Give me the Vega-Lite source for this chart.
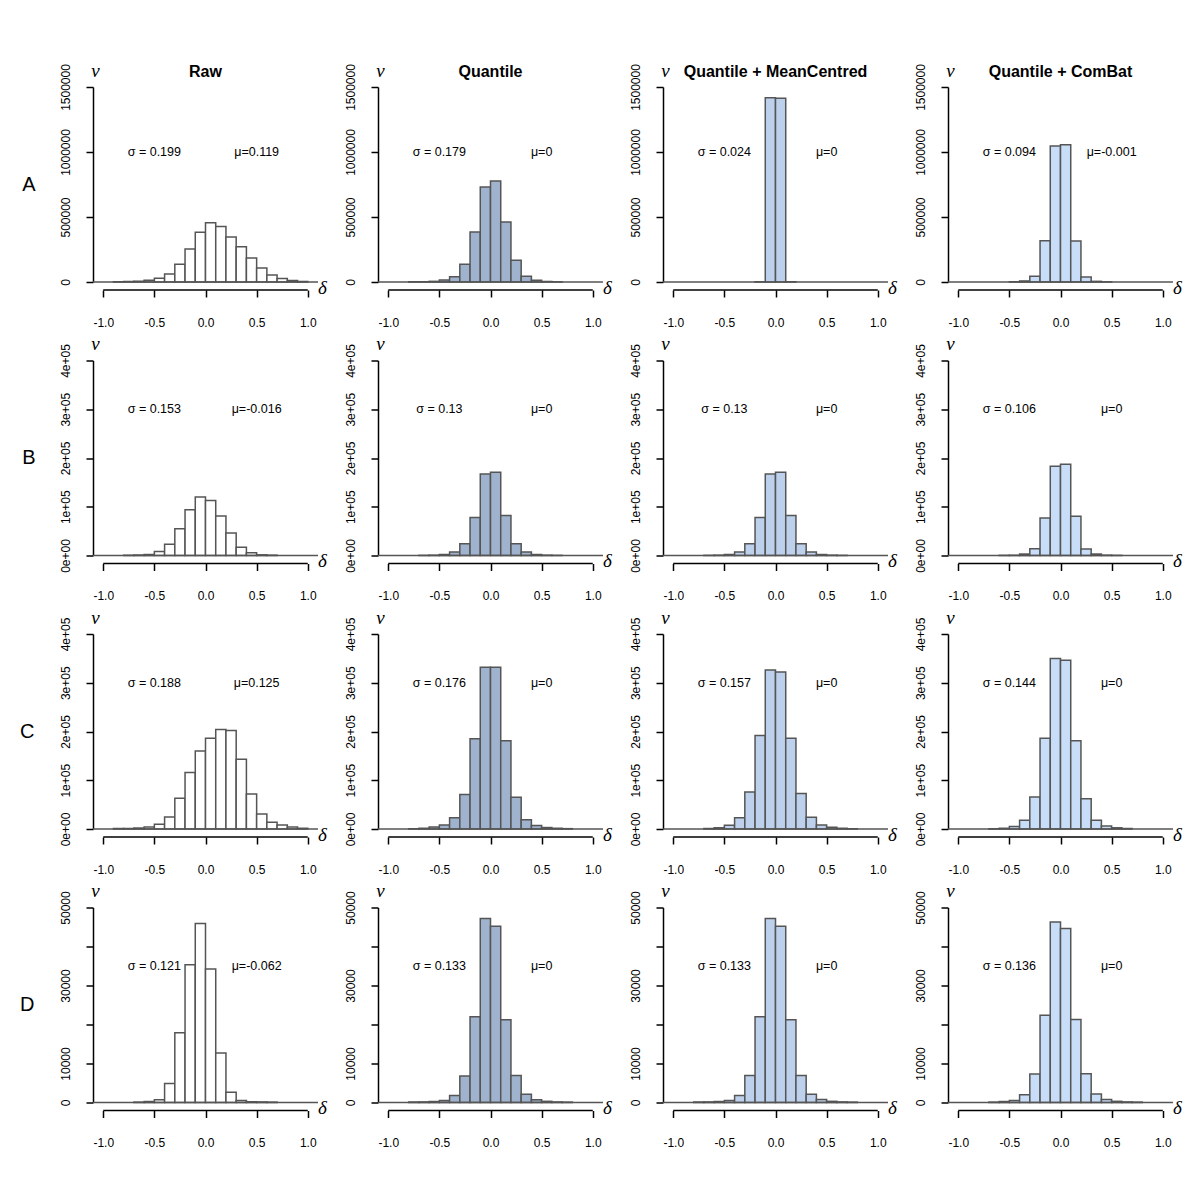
{
"$schema": "https://vega.github.io/schema/vega-lite/v6.json",
"background": "white",
"padding": {"left": 20, "top": 61, "right": 5, "bottom": 5},
"spacing": 6.5,
"config": {
 "view": {"stroke": null},
 "font": "Liberation Sans",
 "axis": {"tickCount": 20, "domainColor": "black", "domainWidth": 1.5, "tickColor": "black", "tickWidth": 1.5, "tickSize": 7, "labelFont": "Liberation Sans", "labelFontSize": 12, "labelColor": "black", "labelFlush": false, "labelOverlap": false, "grid": false, "titleFont": "Liberation Serif", "titleFontStyle": "italic", "titleFontWeight": "normal", "titleFontSize": 19, "titleColor": "black"},
 "axisX": {"domain": false, "labelPadding": 20, "titleX": 229, "titleY": 3, "titleAlign": "center", "titleBaseline": "alphabetic"},
 "axisY": {"labelAngle": -90, "labelAlign": "center", "labelBaseline": "bottom", "labelPadding": 14, "titleAngle": 0, "titleX": 2, "titleY": -11, "titleAlign": "center", "titleBaseline": "alphabetic"}
},
"datasets": {"d": [
{"r":"A","m":"Raw","s":"σ = 0.199","u":"μ=0.119"},
{"r":"A","m":"Quantile","s":"σ = 0.179","u":"μ=0"},
{"r":"A","m":"Quantile + MeanCentred","s":"σ = 0.024","u":"μ=0"},
{"r":"A","m":"Quantile + ComBat","s":"σ = 0.094","u":"μ=-0.001"},
{"r":"B","m":"Raw","s":"σ = 0.153","u":"μ=-0.016"},
{"r":"B","m":"Quantile","s":"σ = 0.13","u":"μ=0"},
{"r":"B","m":"Quantile + MeanCentred","s":"σ = 0.13","u":"μ=0"},
{"r":"B","m":"Quantile + ComBat","s":"σ = 0.106","u":"μ=0"},
{"r":"C","m":"Raw","s":"σ = 0.188","u":"μ=0.125"},
{"r":"C","m":"Quantile","s":"σ = 0.176","u":"μ=0"},
{"r":"C","m":"Quantile + MeanCentred","s":"σ = 0.157","u":"μ=0"},
{"r":"C","m":"Quantile + ComBat","s":"σ = 0.144","u":"μ=0"},
{"r":"D","m":"Raw","s":"σ = 0.121","u":"μ=-0.062"},
{"r":"D","m":"Quantile","s":"σ = 0.133","u":"μ=0"},
{"r":"D","m":"Quantile + MeanCentred","s":"σ = 0.133","u":"μ=0"},
{"r":"D","m":"Quantile + ComBat","s":"σ = 0.136","u":"μ=0"},

{"r":"A","m":"Raw","a":-0.9,"b":-0.8,"n":1500},
{"r":"A","m":"Raw","a":-0.8,"b":-0.7,"n":3000},
{"r":"A","m":"Raw","a":-0.7,"b":-0.6,"n":6000},
{"r":"A","m":"Raw","a":-0.6,"b":-0.5,"n":13000},
{"r":"A","m":"Raw","a":-0.5,"b":-0.4,"n":28000},
{"r":"A","m":"Raw","a":-0.4,"b":-0.3,"n":62000},
{"r":"A","m":"Raw","a":-0.3,"b":-0.2,"n":136000},
{"r":"A","m":"Raw","a":-0.2,"b":-0.1,"n":254000},
{"r":"A","m":"Raw","a":-0.1,"b":0,"n":382000},
{"r":"A","m":"Raw","a":0,"b":0.1,"n":456000},
{"r":"A","m":"Raw","a":0.1,"b":0.2,"n":426000},
{"r":"A","m":"Raw","a":0.2,"b":0.3,"n":346000},
{"r":"A","m":"Raw","a":0.3,"b":0.4,"n":272000},
{"r":"A","m":"Raw","a":0.4,"b":0.5,"n":185000},
{"r":"A","m":"Raw","a":0.5,"b":0.6,"n":108000},
{"r":"A","m":"Raw","a":0.6,"b":0.7,"n":54000},
{"r":"A","m":"Raw","a":0.7,"b":0.8,"n":26000},
{"r":"A","m":"Raw","a":0.8,"b":0.9,"n":12000},
{"r":"A","m":"Raw","a":0.9,"b":1.0,"n":4000},

{"r":"A","m":"Quantile","a":-0.8,"b":-0.7,"n":1000},
{"r":"A","m":"Quantile","a":-0.7,"b":-0.6,"n":2000},
{"r":"A","m":"Quantile","a":-0.6,"b":-0.5,"n":5000},
{"r":"A","m":"Quantile","a":-0.5,"b":-0.4,"n":16000},
{"r":"A","m":"Quantile","a":-0.4,"b":-0.3,"n":40000},
{"r":"A","m":"Quantile","a":-0.3,"b":-0.2,"n":137000},
{"r":"A","m":"Quantile","a":-0.2,"b":-0.1,"n":385000},
{"r":"A","m":"Quantile","a":-0.1,"b":0,"n":731000},
{"r":"A","m":"Quantile","a":0,"b":0.1,"n":777000},
{"r":"A","m":"Quantile","a":0.1,"b":0.2,"n":462000},
{"r":"A","m":"Quantile","a":0.2,"b":0.3,"n":167000},
{"r":"A","m":"Quantile","a":0.3,"b":0.4,"n":44000},
{"r":"A","m":"Quantile","a":0.4,"b":0.5,"n":13000},
{"r":"A","m":"Quantile","a":0.5,"b":0.6,"n":4000},
{"r":"A","m":"Quantile","a":0.6,"b":0.7,"n":1500},

{"r":"A","m":"Quantile + MeanCentred","a":-0.2,"b":-0.1,"n":1500},
{"r":"A","m":"Quantile + MeanCentred","a":-0.1,"b":0,"n":1418000},
{"r":"A","m":"Quantile + MeanCentred","a":0,"b":0.1,"n":1413000},
{"r":"A","m":"Quantile + MeanCentred","a":0.1,"b":0.2,"n":2000},

{"r":"A","m":"Quantile + ComBat","a":-0.5,"b":-0.4,"n":1000},
{"r":"A","m":"Quantile + ComBat","a":-0.4,"b":-0.3,"n":8000},
{"r":"A","m":"Quantile + ComBat","a":-0.3,"b":-0.2,"n":44000},
{"r":"A","m":"Quantile + ComBat","a":-0.2,"b":-0.1,"n":318000},
{"r":"A","m":"Quantile + ComBat","a":-0.1,"b":0,"n":1046000},
{"r":"A","m":"Quantile + ComBat","a":0,"b":0.1,"n":1056000},
{"r":"A","m":"Quantile + ComBat","a":0.1,"b":0.2,"n":315000},
{"r":"A","m":"Quantile + ComBat","a":0.2,"b":0.3,"n":38000},
{"r":"A","m":"Quantile + ComBat","a":0.3,"b":0.4,"n":5000},
{"r":"A","m":"Quantile + ComBat","a":0.4,"b":0.5,"n":800},

{"r":"B","m":"Raw","a":-0.8,"b":-0.7,"n":500},
{"r":"B","m":"Raw","a":-0.7,"b":-0.6,"n":1000},
{"r":"B","m":"Raw","a":-0.6,"b":-0.5,"n":2000},
{"r":"B","m":"Raw","a":-0.5,"b":-0.4,"n":8000},
{"r":"B","m":"Raw","a":-0.4,"b":-0.3,"n":23000},
{"r":"B","m":"Raw","a":-0.3,"b":-0.2,"n":55000},
{"r":"B","m":"Raw","a":-0.2,"b":-0.1,"n":94000},
{"r":"B","m":"Raw","a":-0.1,"b":0,"n":120000},
{"r":"B","m":"Raw","a":0,"b":0.1,"n":113000},
{"r":"B","m":"Raw","a":0.1,"b":0.2,"n":81000},
{"r":"B","m":"Raw","a":0.2,"b":0.3,"n":46000},
{"r":"B","m":"Raw","a":0.3,"b":0.4,"n":17000},
{"r":"B","m":"Raw","a":0.4,"b":0.5,"n":5500},
{"r":"B","m":"Raw","a":0.5,"b":0.6,"n":1400},
{"r":"B","m":"Raw","a":0.6,"b":0.7,"n":700},

{"r":"B","m":"Quantile","a":-0.7,"b":-0.6,"n":300},
{"r":"B","m":"Quantile","a":-0.6,"b":-0.5,"n":700},
{"r":"B","m":"Quantile","a":-0.5,"b":-0.4,"n":2000},
{"r":"B","m":"Quantile","a":-0.4,"b":-0.3,"n":7000},
{"r":"B","m":"Quantile","a":-0.3,"b":-0.2,"n":24000},
{"r":"B","m":"Quantile","a":-0.2,"b":-0.1,"n":78000},
{"r":"B","m":"Quantile","a":-0.1,"b":0,"n":167000},
{"r":"B","m":"Quantile","a":0,"b":0.1,"n":171000},
{"r":"B","m":"Quantile","a":0.1,"b":0.2,"n":82000},
{"r":"B","m":"Quantile","a":0.2,"b":0.3,"n":24000},
{"r":"B","m":"Quantile","a":0.3,"b":0.4,"n":7000},
{"r":"B","m":"Quantile","a":0.4,"b":0.5,"n":2000},
{"r":"B","m":"Quantile","a":0.5,"b":0.6,"n":700},
{"r":"B","m":"Quantile","a":0.6,"b":0.7,"n":300},

{"r":"B","m":"Quantile + MeanCentred","a":-0.7,"b":-0.6,"n":300},
{"r":"B","m":"Quantile + MeanCentred","a":-0.6,"b":-0.5,"n":700},
{"r":"B","m":"Quantile + MeanCentred","a":-0.5,"b":-0.4,"n":2000},
{"r":"B","m":"Quantile + MeanCentred","a":-0.4,"b":-0.3,"n":7000},
{"r":"B","m":"Quantile + MeanCentred","a":-0.3,"b":-0.2,"n":24000},
{"r":"B","m":"Quantile + MeanCentred","a":-0.2,"b":-0.1,"n":78000},
{"r":"B","m":"Quantile + MeanCentred","a":-0.1,"b":0,"n":167000},
{"r":"B","m":"Quantile + MeanCentred","a":0,"b":0.1,"n":171000},
{"r":"B","m":"Quantile + MeanCentred","a":0.1,"b":0.2,"n":82000},
{"r":"B","m":"Quantile + MeanCentred","a":0.2,"b":0.3,"n":24000},
{"r":"B","m":"Quantile + MeanCentred","a":0.3,"b":0.4,"n":7000},
{"r":"B","m":"Quantile + MeanCentred","a":0.4,"b":0.5,"n":2000},
{"r":"B","m":"Quantile + MeanCentred","a":0.5,"b":0.6,"n":700},
{"r":"B","m":"Quantile + MeanCentred","a":0.6,"b":0.7,"n":300},

{"r":"B","m":"Quantile + ComBat","a":-0.6,"b":-0.5,"n":300},
{"r":"B","m":"Quantile + ComBat","a":-0.5,"b":-0.4,"n":700},
{"r":"B","m":"Quantile + ComBat","a":-0.4,"b":-0.3,"n":3000},
{"r":"B","m":"Quantile + ComBat","a":-0.3,"b":-0.2,"n":14000},
{"r":"B","m":"Quantile + ComBat","a":-0.2,"b":-0.1,"n":77000},
{"r":"B","m":"Quantile + ComBat","a":-0.1,"b":0,"n":183000},
{"r":"B","m":"Quantile + ComBat","a":0,"b":0.1,"n":187000},
{"r":"B","m":"Quantile + ComBat","a":0.1,"b":0.2,"n":80500},
{"r":"B","m":"Quantile + ComBat","a":0.2,"b":0.3,"n":13500},
{"r":"B","m":"Quantile + ComBat","a":0.3,"b":0.4,"n":3000},
{"r":"B","m":"Quantile + ComBat","a":0.4,"b":0.5,"n":700},
{"r":"B","m":"Quantile + ComBat","a":0.5,"b":0.6,"n":300},

{"r":"C","m":"Raw","a":-0.9,"b":-0.8,"n":800},
{"r":"C","m":"Raw","a":-0.8,"b":-0.7,"n":1200},
{"r":"C","m":"Raw","a":-0.7,"b":-0.6,"n":2000},
{"r":"C","m":"Raw","a":-0.6,"b":-0.5,"n":4000},
{"r":"C","m":"Raw","a":-0.5,"b":-0.4,"n":9500},
{"r":"C","m":"Raw","a":-0.4,"b":-0.3,"n":24500},
{"r":"C","m":"Raw","a":-0.3,"b":-0.2,"n":63000},
{"r":"C","m":"Raw","a":-0.2,"b":-0.1,"n":116000},
{"r":"C","m":"Raw","a":-0.1,"b":0,"n":160000},
{"r":"C","m":"Raw","a":0,"b":0.1,"n":186000},
{"r":"C","m":"Raw","a":0.1,"b":0.2,"n":204000},
{"r":"C","m":"Raw","a":0.2,"b":0.3,"n":202000},
{"r":"C","m":"Raw","a":0.3,"b":0.4,"n":143000},
{"r":"C","m":"Raw","a":0.4,"b":0.5,"n":72000},
{"r":"C","m":"Raw","a":0.5,"b":0.6,"n":31000},
{"r":"C","m":"Raw","a":0.6,"b":0.7,"n":14000},
{"r":"C","m":"Raw","a":0.7,"b":0.8,"n":8000},
{"r":"C","m":"Raw","a":0.8,"b":0.9,"n":4000},
{"r":"C","m":"Raw","a":0.9,"b":1.0,"n":1500},

{"r":"C","m":"Quantile","a":-0.8,"b":-0.7,"n":700},
{"r":"C","m":"Quantile","a":-0.7,"b":-0.6,"n":1500},
{"r":"C","m":"Quantile","a":-0.6,"b":-0.5,"n":4000},
{"r":"C","m":"Quantile","a":-0.5,"b":-0.4,"n":8000},
{"r":"C","m":"Quantile","a":-0.4,"b":-0.3,"n":23000},
{"r":"C","m":"Quantile","a":-0.3,"b":-0.2,"n":71000},
{"r":"C","m":"Quantile","a":-0.2,"b":-0.1,"n":185000},
{"r":"C","m":"Quantile","a":-0.1,"b":0,"n":332000},
{"r":"C","m":"Quantile","a":0,"b":0.1,"n":332000},
{"r":"C","m":"Quantile","a":0.1,"b":0.2,"n":181000},
{"r":"C","m":"Quantile","a":0.2,"b":0.3,"n":65000},
{"r":"C","m":"Quantile","a":0.3,"b":0.4,"n":19000},
{"r":"C","m":"Quantile","a":0.4,"b":0.5,"n":7000},
{"r":"C","m":"Quantile","a":0.5,"b":0.6,"n":3000},
{"r":"C","m":"Quantile","a":0.6,"b":0.7,"n":1500},
{"r":"C","m":"Quantile","a":0.7,"b":0.8,"n":700},

{"r":"C","m":"Quantile + MeanCentred","a":-0.7,"b":-0.6,"n":1000},
{"r":"C","m":"Quantile + MeanCentred","a":-0.6,"b":-0.5,"n":2500},
{"r":"C","m":"Quantile + MeanCentred","a":-0.5,"b":-0.4,"n":7500},
{"r":"C","m":"Quantile + MeanCentred","a":-0.4,"b":-0.3,"n":23000},
{"r":"C","m":"Quantile + MeanCentred","a":-0.3,"b":-0.2,"n":76000},
{"r":"C","m":"Quantile + MeanCentred","a":-0.2,"b":-0.1,"n":192000},
{"r":"C","m":"Quantile + MeanCentred","a":-0.1,"b":0,"n":326000},
{"r":"C","m":"Quantile + MeanCentred","a":0,"b":0.1,"n":322000},
{"r":"C","m":"Quantile + MeanCentred","a":0.1,"b":0.2,"n":186000},
{"r":"C","m":"Quantile + MeanCentred","a":0.2,"b":0.3,"n":73000},
{"r":"C","m":"Quantile + MeanCentred","a":0.3,"b":0.4,"n":24000},
{"r":"C","m":"Quantile + MeanCentred","a":0.4,"b":0.5,"n":8000},
{"r":"C","m":"Quantile + MeanCentred","a":0.5,"b":0.6,"n":3400},
{"r":"C","m":"Quantile + MeanCentred","a":0.6,"b":0.7,"n":1500},
{"r":"C","m":"Quantile + MeanCentred","a":0.7,"b":0.8,"n":500},

{"r":"C","m":"Quantile + ComBat","a":-0.7,"b":-0.6,"n":500},
{"r":"C","m":"Quantile + ComBat","a":-0.6,"b":-0.5,"n":1500},
{"r":"C","m":"Quantile + ComBat","a":-0.5,"b":-0.4,"n":5000},
{"r":"C","m":"Quantile + ComBat","a":-0.4,"b":-0.3,"n":18000},
{"r":"C","m":"Quantile + ComBat","a":-0.3,"b":-0.2,"n":65500},
{"r":"C","m":"Quantile + ComBat","a":-0.2,"b":-0.1,"n":186000},
{"r":"C","m":"Quantile + ComBat","a":-0.1,"b":0,"n":350000},
{"r":"C","m":"Quantile + ComBat","a":0,"b":0.1,"n":346000},
{"r":"C","m":"Quantile + ComBat","a":0.1,"b":0.2,"n":181000},
{"r":"C","m":"Quantile + ComBat","a":0.2,"b":0.3,"n":62000},
{"r":"C","m":"Quantile + ComBat","a":0.3,"b":0.4,"n":18000},
{"r":"C","m":"Quantile + ComBat","a":0.4,"b":0.5,"n":6000},
{"r":"C","m":"Quantile + ComBat","a":0.5,"b":0.6,"n":2500},
{"r":"C","m":"Quantile + ComBat","a":0.6,"b":0.7,"n":1000},

{"r":"D","m":"Raw","a":-0.7,"b":-0.6,"n":100},
{"r":"D","m":"Raw","a":-0.6,"b":-0.5,"n":250},
{"r":"D","m":"Raw","a":-0.5,"b":-0.4,"n":700},
{"r":"D","m":"Raw","a":-0.4,"b":-0.3,"n":4900},
{"r":"D","m":"Raw","a":-0.3,"b":-0.2,"n":17900},
{"r":"D","m":"Raw","a":-0.2,"b":-0.1,"n":35300},
{"r":"D","m":"Raw","a":-0.1,"b":0,"n":45900},
{"r":"D","m":"Raw","a":0,"b":0.1,"n":34200},
{"r":"D","m":"Raw","a":0.1,"b":0.2,"n":12700},
{"r":"D","m":"Raw","a":0.2,"b":0.3,"n":2600},
{"r":"D","m":"Raw","a":0.3,"b":0.4,"n":500},
{"r":"D","m":"Raw","a":0.4,"b":0.5,"n":200},
{"r":"D","m":"Raw","a":0.5,"b":0.6,"n":150},
{"r":"D","m":"Raw","a":0.6,"b":0.7,"n":100},

{"r":"D","m":"Quantile","a":-0.8,"b":-0.7,"n":100},
{"r":"D","m":"Quantile","a":-0.7,"b":-0.6,"n":150},
{"r":"D","m":"Quantile","a":-0.6,"b":-0.5,"n":250},
{"r":"D","m":"Quantile","a":-0.5,"b":-0.4,"n":500},
{"r":"D","m":"Quantile","a":-0.4,"b":-0.3,"n":1800},
{"r":"D","m":"Quantile","a":-0.3,"b":-0.2,"n":6800},
{"r":"D","m":"Quantile","a":-0.2,"b":-0.1,"n":22000},
{"r":"D","m":"Quantile","a":-0.1,"b":0,"n":47200},
{"r":"D","m":"Quantile","a":0,"b":0.1,"n":45200},
{"r":"D","m":"Quantile","a":0.1,"b":0.2,"n":21200},
{"r":"D","m":"Quantile","a":0.2,"b":0.3,"n":6900},
{"r":"D","m":"Quantile","a":0.3,"b":0.4,"n":2100},
{"r":"D","m":"Quantile","a":0.4,"b":0.5,"n":700},
{"r":"D","m":"Quantile","a":0.5,"b":0.6,"n":300},
{"r":"D","m":"Quantile","a":0.6,"b":0.7,"n":150},
{"r":"D","m":"Quantile","a":0.7,"b":0.8,"n":100},

{"r":"D","m":"Quantile + MeanCentred","a":-0.8,"b":-0.7,"n":100},
{"r":"D","m":"Quantile + MeanCentred","a":-0.7,"b":-0.6,"n":150},
{"r":"D","m":"Quantile + MeanCentred","a":-0.6,"b":-0.5,"n":250},
{"r":"D","m":"Quantile + MeanCentred","a":-0.5,"b":-0.4,"n":500},
{"r":"D","m":"Quantile + MeanCentred","a":-0.4,"b":-0.3,"n":1800},
{"r":"D","m":"Quantile + MeanCentred","a":-0.3,"b":-0.2,"n":6900},
{"r":"D","m":"Quantile + MeanCentred","a":-0.2,"b":-0.1,"n":22000},
{"r":"D","m":"Quantile + MeanCentred","a":-0.1,"b":0,"n":47200},
{"r":"D","m":"Quantile + MeanCentred","a":0,"b":0.1,"n":45200},
{"r":"D","m":"Quantile + MeanCentred","a":0.1,"b":0.2,"n":21200},
{"r":"D","m":"Quantile + MeanCentred","a":0.2,"b":0.3,"n":6900},
{"r":"D","m":"Quantile + MeanCentred","a":0.3,"b":0.4,"n":2100},
{"r":"D","m":"Quantile + MeanCentred","a":0.4,"b":0.5,"n":800},
{"r":"D","m":"Quantile + MeanCentred","a":0.5,"b":0.6,"n":300},
{"r":"D","m":"Quantile + MeanCentred","a":0.6,"b":0.7,"n":150},
{"r":"D","m":"Quantile + MeanCentred","a":0.7,"b":0.8,"n":100},

{"r":"D","m":"Quantile + ComBat","a":-0.7,"b":-0.6,"n":100},
{"r":"D","m":"Quantile + ComBat","a":-0.6,"b":-0.5,"n":250},
{"r":"D","m":"Quantile + ComBat","a":-0.5,"b":-0.4,"n":500},
{"r":"D","m":"Quantile + ComBat","a":-0.4,"b":-0.3,"n":2000},
{"r":"D","m":"Quantile + ComBat","a":-0.3,"b":-0.2,"n":7300},
{"r":"D","m":"Quantile + ComBat","a":-0.2,"b":-0.1,"n":22400},
{"r":"D","m":"Quantile + ComBat","a":-0.1,"b":0,"n":46300},
{"r":"D","m":"Quantile + ComBat","a":0,"b":0.1,"n":44600},
{"r":"D","m":"Quantile + ComBat","a":0.1,"b":0.2,"n":21300},
{"r":"D","m":"Quantile + ComBat","a":0.2,"b":0.3,"n":7400},
{"r":"D","m":"Quantile + ComBat","a":0.3,"b":0.4,"n":2200},
{"r":"D","m":"Quantile + ComBat","a":0.4,"b":0.5,"n":800},
{"r":"D","m":"Quantile + ComBat","a":0.5,"b":0.6,"n":300},
{"r":"D","m":"Quantile + ComBat","a":0.6,"b":0.7,"n":150},
{"r":"D","m":"Quantile + ComBat","a":0.7,"b":0.8,"n":100}
]},
"vconcat": [
{
 "data": {"name": "d"},
 "transform": [{"filter": "datum.r == 'A'"}],
 "facet": {
  "row": {"field": "r", "type": "nominal", "header": {"title": null, "labelAngle": 0, "labelOrient": "left", "labelAlign": "right", "labelFontSize": 20, "labelFont": "Liberation Sans", "labelPadding": 44, "labelColor": "black"}},
  "column": {"field": "m", "type": "nominal", "sort": ["Raw", "Quantile", "Quantile + MeanCentred", "Quantile + ComBat"], "header": {"title": null, "labelFontSize": 16, "labelFontWeight": "bold", "labelFont": "Liberation Sans", "labelPadding": 7, "labelColor": "black"}}
 },
 "spacing": {"row": 0, "column": 60},
 "bounds": "flush",
 "resolve": {"axis": {"x": "independent", "y": "independent"}},
 "spec": {"width": 225, "height": 195, "layer": [
  {"transform": [{"filter": "isValid(datum.n)"}],
   "mark": {"type": "bar", "stroke": "#555555", "strokeWidth": 1.5},
   "encoding": {
    "x": {"field": "a", "type": "quantitative", "scale": {"domain": [-1.1, 1.1], "nice": false, "zero": false}, "axis": {"values": [-1, -0.5, 0, 0.5, 1], "labelExpr": "datum.value == 0 ? '0.0' : (datum.value < 0 ? '-' : '') + format(abs(datum.value), '.1f')", "offset": 8, "title": "δ"}},
    "x2": {"field": "b"},
    "y": {"field": "n", "type": "quantitative", "scale": {"domain": [0, 1500000], "nice": false}, "axis": {"values": [0, 500000, 1000000, 1500000], "labelExpr": "'' + datum.value", "title": "ν"}},
    "y2": {"datum": 0},
    "fill": {"field": "m", "type": "nominal", "scale": {"domain": ["Raw", "Quantile", "Quantile + MeanCentred", "Quantile + ComBat"], "range": ["#ffffff", "#a0b3ce", "#bdd1ed", "#c8def8"]}, "legend": null}
   }},
  {"transform": [{"filter": "isValid(datum.s)"}], "mark": {"type": "rule", "color": "#555555", "strokeWidth": 1.5}, "encoding": {"y": {"datum": 0}}},
  {"transform": [{"filter": "isValid(datum.s)"}], "mark": {"type": "rule", "color": "black", "strokeWidth": 1.5, "yOffset": 8}, "encoding": {"x": {"datum": -1}, "x2": {"datum": 1}, "y": {"datum": 0}}},
  {"transform": [{"filter": "isValid(datum.s)"}], "mark": {"type": "text", "fontSize": 12.5, "font": "Liberation Sans", "color": "black", "baseline": "middle"}, "encoding": {"x": {"datum": -0.5}, "y": {"datum": 1000000}, "text": {"field": "s"}}},
  {"transform": [{"filter": "isValid(datum.s)"}], "mark": {"type": "text", "fontSize": 12.5, "font": "Liberation Sans", "color": "black", "baseline": "middle"}, "encoding": {"x": {"datum": 0.5}, "y": {"datum": 1000000}, "text": {"field": "u"}}}
 ]}
},
{
 "data": {"name": "d"},
 "transform": [{"filter": "datum.r == 'B'"}],
 "facet": {
  "row": {"field": "r", "type": "nominal", "header": {"title": null, "labelAngle": 0, "labelOrient": "left", "labelAlign": "right", "labelFontSize": 20, "labelFont": "Liberation Sans", "labelPadding": 44, "labelColor": "black"}},
  "column": {"field": "m", "type": "nominal", "sort": ["Raw", "Quantile", "Quantile + MeanCentred", "Quantile + ComBat"], "header": {"title": null, "labels": false}}
 },
 "spacing": {"row": 0, "column": 60},
 "bounds": "flush",
 "resolve": {"axis": {"x": "independent", "y": "independent"}},
 "spec": {"width": 225, "height": 195, "layer": [
  {"transform": [{"filter": "isValid(datum.n)"}],
   "mark": {"type": "bar", "stroke": "#555555", "strokeWidth": 1.5},
   "encoding": {
    "x": {"field": "a", "type": "quantitative", "scale": {"domain": [-1.1, 1.1], "nice": false, "zero": false}, "axis": {"values": [-1, -0.5, 0, 0.5, 1], "labelExpr": "datum.value == 0 ? '0.0' : (datum.value < 0 ? '-' : '') + format(abs(datum.value), '.1f')", "offset": 8, "title": "δ"}},
    "x2": {"field": "b"},
    "y": {"field": "n", "type": "quantitative", "scale": {"domain": [0, 400000], "nice": false}, "axis": {"values": [0, 100000, 200000, 300000, 400000], "labelExpr": "datum.value == 0 ? '0e+00' : (datum.value / 100000) + 'e+05'", "title": "ν"}},
    "y2": {"datum": 0},
    "fill": {"field": "m", "type": "nominal", "scale": {"domain": ["Raw", "Quantile", "Quantile + MeanCentred", "Quantile + ComBat"], "range": ["#ffffff", "#a0b3ce", "#bdd1ed", "#c8def8"]}, "legend": null}
   }},
  {"transform": [{"filter": "isValid(datum.s)"}], "mark": {"type": "rule", "color": "#555555", "strokeWidth": 1.5}, "encoding": {"y": {"datum": 0}}},
  {"transform": [{"filter": "isValid(datum.s)"}], "mark": {"type": "rule", "color": "black", "strokeWidth": 1.5, "yOffset": 8}, "encoding": {"x": {"datum": -1}, "x2": {"datum": 1}, "y": {"datum": 0}}},
  {"transform": [{"filter": "isValid(datum.s)"}], "mark": {"type": "text", "fontSize": 12.5, "font": "Liberation Sans", "color": "black", "baseline": "middle"}, "encoding": {"x": {"datum": -0.5}, "y": {"datum": 300000}, "text": {"field": "s"}}},
  {"transform": [{"filter": "isValid(datum.s)"}], "mark": {"type": "text", "fontSize": 12.5, "font": "Liberation Sans", "color": "black", "baseline": "middle"}, "encoding": {"x": {"datum": 0.5}, "y": {"datum": 300000}, "text": {"field": "u"}}}
 ]}
},
{
 "data": {"name": "d"},
 "transform": [{"filter": "datum.r == 'C'"}],
 "facet": {
  "row": {"field": "r", "type": "nominal", "header": {"title": null, "labelAngle": 0, "labelOrient": "left", "labelAlign": "right", "labelFontSize": 20, "labelFont": "Liberation Sans", "labelPadding": 44, "labelColor": "black"}},
  "column": {"field": "m", "type": "nominal", "sort": ["Raw", "Quantile", "Quantile + MeanCentred", "Quantile + ComBat"], "header": {"title": null, "labels": false}}
 },
 "spacing": {"row": 0, "column": 60},
 "bounds": "flush",
 "resolve": {"axis": {"x": "independent", "y": "independent"}},
 "spec": {"width": 225, "height": 195, "layer": [
  {"transform": [{"filter": "isValid(datum.n)"}],
   "mark": {"type": "bar", "stroke": "#555555", "strokeWidth": 1.5},
   "encoding": {
    "x": {"field": "a", "type": "quantitative", "scale": {"domain": [-1.1, 1.1], "nice": false, "zero": false}, "axis": {"values": [-1, -0.5, 0, 0.5, 1], "labelExpr": "datum.value == 0 ? '0.0' : (datum.value < 0 ? '-' : '') + format(abs(datum.value), '.1f')", "offset": 8, "title": "δ"}},
    "x2": {"field": "b"},
    "y": {"field": "n", "type": "quantitative", "scale": {"domain": [0, 400000], "nice": false}, "axis": {"values": [0, 100000, 200000, 300000, 400000], "labelExpr": "datum.value == 0 ? '0e+00' : (datum.value / 100000) + 'e+05'", "title": "ν"}},
    "y2": {"datum": 0},
    "fill": {"field": "m", "type": "nominal", "scale": {"domain": ["Raw", "Quantile", "Quantile + MeanCentred", "Quantile + ComBat"], "range": ["#ffffff", "#a0b3ce", "#bdd1ed", "#c8def8"]}, "legend": null}
   }},
  {"transform": [{"filter": "isValid(datum.s)"}], "mark": {"type": "rule", "color": "#555555", "strokeWidth": 1.5}, "encoding": {"y": {"datum": 0}}},
  {"transform": [{"filter": "isValid(datum.s)"}], "mark": {"type": "rule", "color": "black", "strokeWidth": 1.5, "yOffset": 8}, "encoding": {"x": {"datum": -1}, "x2": {"datum": 1}, "y": {"datum": 0}}},
  {"transform": [{"filter": "isValid(datum.s)"}], "mark": {"type": "text", "fontSize": 12.5, "font": "Liberation Sans", "color": "black", "baseline": "middle"}, "encoding": {"x": {"datum": -0.5}, "y": {"datum": 300000}, "text": {"field": "s"}}},
  {"transform": [{"filter": "isValid(datum.s)"}], "mark": {"type": "text", "fontSize": 12.5, "font": "Liberation Sans", "color": "black", "baseline": "middle"}, "encoding": {"x": {"datum": 0.5}, "y": {"datum": 300000}, "text": {"field": "u"}}}
 ]}
},
{
 "data": {"name": "d"},
 "transform": [{"filter": "datum.r == 'D'"}],
 "facet": {
  "row": {"field": "r", "type": "nominal", "header": {"title": null, "labelAngle": 0, "labelOrient": "left", "labelAlign": "right", "labelFontSize": 20, "labelFont": "Liberation Sans", "labelPadding": 44, "labelColor": "black"}},
  "column": {"field": "m", "type": "nominal", "sort": ["Raw", "Quantile", "Quantile + MeanCentred", "Quantile + ComBat"], "header": {"title": null, "labels": false}}
 },
 "spacing": {"row": 0, "column": 60},
 "bounds": "flush",
 "resolve": {"axis": {"x": "independent", "y": "independent"}},
 "spec": {"width": 225, "height": 195, "layer": [
  {"transform": [{"filter": "isValid(datum.n)"}],
   "mark": {"type": "bar", "stroke": "#555555", "strokeWidth": 1.5},
   "encoding": {
    "x": {"field": "a", "type": "quantitative", "scale": {"domain": [-1.1, 1.1], "nice": false, "zero": false}, "axis": {"values": [-1, -0.5, 0, 0.5, 1], "labelExpr": "datum.value == 0 ? '0.0' : (datum.value < 0 ? '-' : '') + format(abs(datum.value), '.1f')", "offset": 8, "title": "δ"}},
    "x2": {"field": "b"},
    "y": {"field": "n", "type": "quantitative", "scale": {"domain": [0, 50000], "nice": false}, "axis": {"values": [0, 10000, 20000, 30000, 40000, 50000], "labelExpr": "datum.value == 20000 || datum.value == 40000 ? '' : '' + datum.value", "title": "ν"}},
    "y2": {"datum": 0},
    "fill": {"field": "m", "type": "nominal", "scale": {"domain": ["Raw", "Quantile", "Quantile + MeanCentred", "Quantile + ComBat"], "range": ["#ffffff", "#a0b3ce", "#bdd1ed", "#c8def8"]}, "legend": null}
   }},
  {"transform": [{"filter": "isValid(datum.s)"}], "mark": {"type": "rule", "color": "#555555", "strokeWidth": 1.5}, "encoding": {"y": {"datum": 0}}},
  {"transform": [{"filter": "isValid(datum.s)"}], "mark": {"type": "rule", "color": "black", "strokeWidth": 1.5, "yOffset": 8}, "encoding": {"x": {"datum": -1}, "x2": {"datum": 1}, "y": {"datum": 0}}},
  {"transform": [{"filter": "isValid(datum.s)"}], "mark": {"type": "text", "fontSize": 12.5, "font": "Liberation Sans", "color": "black", "baseline": "middle"}, "encoding": {"x": {"datum": -0.5}, "y": {"datum": 35000}, "text": {"field": "s"}}},
  {"transform": [{"filter": "isValid(datum.s)"}], "mark": {"type": "text", "fontSize": 12.5, "font": "Liberation Sans", "color": "black", "baseline": "middle"}, "encoding": {"x": {"datum": 0.5}, "y": {"datum": 35000}, "text": {"field": "u"}}}
 ]}
}
]
}
